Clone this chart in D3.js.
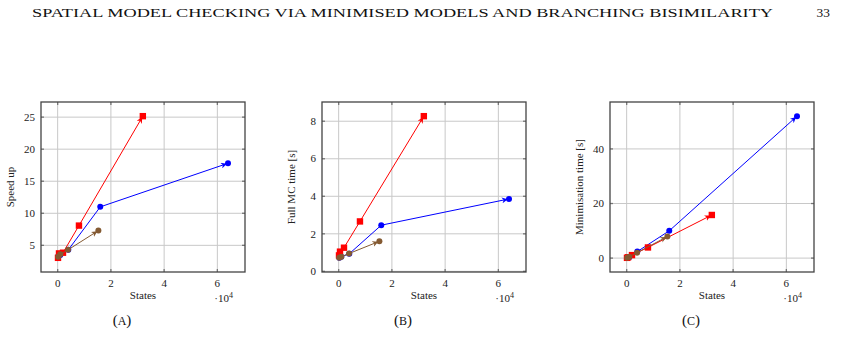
<!DOCTYPE html>
<html>
<head>
<meta charset="utf-8">
<script src="https://cdn.jsdelivr.net/npm/d3@7"></script>
<style>
  body { margin: 0; background: #fff; }
  svg { display: block; font-family: 'Liberation Serif', 'DejaVu Serif', serif; }
</style>
</head>
<body>
<svg width="846" height="360"></svg>
<script>
// states (x values) per series
var redStates = [125, 500, 2000, 8000, 32000];
var blueStates = [250, 1000, 4000, 16000, 64000];
var brownStates = [200, 1000, 3900, 15300];

// (A) speed up
var speedRed = [3.05, 3.74, 3.85, 8.08, 25.15];
var speedBlue = [3.3, 3.5, 4.3, 11.0, 17.8];
var speedBrown = [3.2, 3.6, 4.3, 7.3];

// (B) full MC time [s]
var mcRed = [0.85, 1.05, 1.26, 2.66, 8.27];
var mcBlue = [0.72, 0.78, 0.94, 2.46, 3.86];
var mcBrown = [0.72, 0.78, 0.95, 1.6];

// (C) minimisation time [s]
var minRed = [0.1, 0.3, 1.1, 3.9, 15.8];
var minBlue = [0.1, 0.3, 2.4, 10.0, 52.0];
var minBrown = [0.1, 0.5, 2.0, 7.9];

var xTicks = [0, 20000, 40000, 60000];
var xTickLabels = ['0', '2', '4', '6'];
var speedTicks = [5, 10, 15, 20, 25];
var mcTicks = [0, 2, 4, 6, 8];
var minTicks = [0, 20, 40];

var headerText = 'SPATIAL MODEL CHECKING VIA MINIMISED MODELS AND BRANCHING BISIMILARITY';
var pageNo = '33';

var colors = { red: '#ff0000', blue: '#0000ff', brown: '#845a32' };

var svg = d3.select('svg');

svg.append('text')
  .attr('x', 32).attr('y', 17)
  .attr('font-size', 13.4)
  .attr('textLength', 741)
  .attr('lengthAdjust', 'spacingAndGlyphs')
  .attr('fill', '#111')
  .text(headerText);
svg.append('text')
  .attr('x', 830).attr('y', 17)
  .attr('font-size', 13.4)
  .attr('text-anchor', 'end')
  .attr('fill', '#111')
  .text(pageNo);

// arrow markers
var defs = svg.append('defs');
Object.keys(colors).forEach(function(k) {
  defs.append('marker')
    .attr('id', 'arr-' + k)
    .attr('viewBox', '0 0 10 10')
    .attr('refX', 12).attr('refY', 5)
    .attr('markerWidth', 6).attr('markerHeight', 6)
    .attr('markerUnits', 'userSpaceOnUse')
    .attr('orient', 'auto')
    .append('path')
    .attr('d', 'M0,0 L10,5 L0,10 L3,5 Z')
    .attr('fill', colors[k]);
});

function enlarge(vals) {
  var e = d3.extent(vals), r = e[1] - e[0];
  return [e[0] - 0.1 * r, e[1] + 0.1 * r];
}

var allStates = redStates.concat(blueStates, brownStates);

var panels = [
  { left: 41, label: 'Speed up', cap: 'A', ticks: speedTicks,
    red: speedRed, blue: speedBlue, brown: speedBrown },
  { left: 322, label: 'Full MC time [s]', cap: 'B', ticks: mcTicks,
    red: mcRed, blue: mcBlue, brown: mcBrown },
  { left: 610, label: 'Minimisation time [s]', cap: 'C', ticks: minTicks,
    red: minRed, blue: minBlue, brown: minBrown }
];

var plotTop = 102, w = 204, h = 170;

panels.forEach(function(p) {
  var g = svg.append('g').attr('transform', 'translate(' + p.left + ',' + plotTop + ')');

  var x = d3.scaleLinear().domain(enlarge(allStates)).range([0, w]);
  var y = d3.scaleLinear().domain(enlarge(p.red.concat(p.blue, p.brown))).range([h, 0]);

  // grid
  g.selectAll('.gx').data(xTicks).enter().append('line')
    .attr('x1', function(d) { return x(d); }).attr('x2', function(d) { return x(d); })
    .attr('y1', 0).attr('y2', h)
    .attr('stroke', '#c8c8c8').attr('stroke-width', 1);
  g.selectAll('.gy').data(p.ticks).enter().append('line')
    .attr('y1', function(d) { return y(d); }).attr('y2', function(d) { return y(d); })
    .attr('x1', 0).attr('x2', w)
    .attr('stroke', '#c8c8c8').attr('stroke-width', 1);

  // tick marks (inside, all sides)
  xTicks.forEach(function(d) {
    g.append('line').attr('x1', x(d)).attr('x2', x(d)).attr('y1', h).attr('y2', h - 3)
      .attr('stroke', '#777').attr('stroke-width', 1.3);
    g.append('line').attr('x1', x(d)).attr('x2', x(d)).attr('y1', 0).attr('y2', 3)
      .attr('stroke', '#777').attr('stroke-width', 1.3);
  });
  p.ticks.forEach(function(d) {
    g.append('line').attr('y1', y(d)).attr('y2', y(d)).attr('x1', 0).attr('x2', 3)
      .attr('stroke', '#777').attr('stroke-width', 1.3);
    g.append('line').attr('y1', y(d)).attr('y2', y(d)).attr('x1', w).attr('x2', w - 3)
      .attr('stroke', '#777').attr('stroke-width', 1.3);
  });

  // tick labels
  g.selectAll('.xl').data(xTicks).enter().append('text')
    .attr('x', function(d) { return x(d); }).attr('y', h + 15)
    .attr('text-anchor', 'middle').attr('font-size', 11).attr('fill', '#222')
    .text(function(d, i) { return xTickLabels[i]; });
  g.selectAll('.yl').data(p.ticks).enter().append('text')
    .attr('x', -6).attr('y', function(d) { return y(d) + 3.7; })
    .attr('text-anchor', 'end').attr('font-size', 11).attr('fill', '#222')
    .text(function(d) { return d; });

  // series
  var series = [
    { key: 'blue', xs: blueStates, ys: p.blue, mark: 'circle' },
    { key: 'red', xs: redStates, ys: p.red, mark: 'square' },
    { key: 'brown', xs: brownStates, ys: p.brown, mark: 'circle' }
  ];
  series.forEach(function(s) {
    var pts = s.xs.map(function(v, i) { return [v, s.ys[i]]; });
    var line = d3.line().x(function(d) { return x(d[0]); }).y(function(d) { return y(d[1]); });
    g.append('path').datum(pts)
      .attr('d', line)
      .attr('fill', 'none')
      .attr('stroke', colors[s.key])
      .attr('stroke-width', 1)
      .attr('marker-end', 'url(#arr-' + s.key + ')');
    if (s.mark === 'square') {
      g.selectAll(null).data(pts).enter().append('rect')
        .attr('x', function(d) { return x(d[0]) - 3.2; })
        .attr('y', function(d) { return y(d[1]) - 3.2; })
        .attr('width', 6.4).attr('height', 6.4)
        .attr('fill', colors[s.key]);
    } else {
      g.selectAll(null).data(pts).enter().append('circle')
        .attr('cx', function(d) { return x(d[0]); })
        .attr('cy', function(d) { return y(d[1]); })
        .attr('r', 3)
        .attr('fill', colors[s.key]);
    }
  });

  // frame
  g.append('rect').attr('width', w).attr('height', h)
    .attr('fill', 'none').attr('stroke', '#444').attr('stroke-width', 1.3);

  // axis labels
  g.append('text').attr('x', w / 2).attr('y', h + 27)
    .attr('text-anchor', 'middle').attr('font-size', 11).attr('fill', '#222')
    .text('States');
  var mult = g.append('text').attr('x', w - 12).attr('y', h + 30)
    .attr('text-anchor', 'end').attr('font-size', 11).attr('fill', '#222');
  mult.append('tspan').text('\u00b710');
  mult.append('tspan').attr('font-size', 8).attr('dy', -4).text('4');

  g.append('text')
    .attr('transform', 'translate(' + (-27) + ',' + (h / 2) + ') rotate(-90)')
    .attr('text-anchor', 'middle').attr('font-size', 11).attr('fill', '#222')
    .text(p.label);

  // sub caption
  var cap = g.append('text').attr('x', w / 2 - 21).attr('y', h + 53)
    .attr('text-anchor', 'middle').attr('font-size', 15).attr('fill', '#111');
  cap.append('tspan').text('(');
  cap.append('tspan').attr('font-size', 12).text(p.cap);
  cap.append('tspan').text(')');
});
</script>
</body>
</html>
